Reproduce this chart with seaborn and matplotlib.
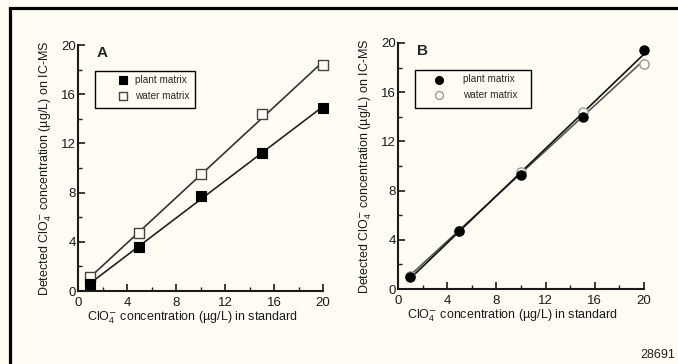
import numpy as np
import pandas as pd
import matplotlib
matplotlib.use("Agg")
import matplotlib.pyplot as plt
import seaborn as sns
from matplotlib.lines import Line2D
from matplotlib.patches import Rectangle
from matplotlib.ticker import MultipleLocator

# ---------------- data ----------------
std_conc = [1, 5, 10, 15, 20]
a_plant = [0.55, 3.6, 7.7, 11.2, 14.9]
a_water = [1.1, 4.7, 9.5, 14.35, 18.4]
b_plant = [1.0, 4.75, 9.3, 14.0, 19.4]
b_water = [1.05, 4.7, 9.5, 14.4, 18.3]
tick_values = [0, 4, 8, 12, 16, 20]
series_labels = ["plant matrix", "water matrix"]
panel_labels = ["A", "B"]
figure_id = "28691"

sns.set_theme(style="ticks")
plt.rcParams["font.family"] = ["Liberation Sans", "DejaVu Sans"]
plt.rcParams["mathtext.fontset"] = "custom"
plt.rcParams["mathtext.rm"] = "Liberation Sans"
plt.rcParams["mathtext.it"] = "Liberation Sans:italic"

BG = "#fffdf3"
INK = "#1a1a1a"
fig = plt.figure(figsize=(6.78, 3.64), dpi=100, facecolor=BG)

axA = fig.add_axes([78 / 678, 1 - 291 / 364, 245 / 678, 246 / 364])
axB = fig.add_axes([398 / 678, 1 - 289 / 364, 246 / 678, 246 / 364])

xlabel = r"ClO$_4^{\mathsf{-}}$ concentration (µg/L) in standard"
ylabel = r"Detected ClO$_4^{\mathsf{-}}$ concentration (µg/L) on IC-MS"

panels = [
    # ax, plant, water, marker, water edge, line colours, legend frame box, legend anchor, text pad, xlabel x
    (axA, a_plant, a_water, "s", "#444444", "#222222", "#333333",
     (0.069, 0.744, 0.408, 0.150), (0.163, 0.878), 0.75, 0.465),
    (axB, b_plant, b_water, "o", "#9a9a9a", "#111111", "#555555",
     (0.069, 0.736, 0.472, 0.154), (0.147, 0.872), 1.85, 0.463),
]

for i, (ax, plant, water, mk, wcol, lcol1, lcol2, box, anchor, htp, xlx) in enumerate(panels):
    ax.set_facecolor(BG)
    df = pd.DataFrame({"x": std_conc, "plant": plant, "water": water})
    sns.regplot(data=df, x="x", y="water", ax=ax, ci=None, scatter=False,
                truncate=True, line_kws=dict(color=lcol2, lw=1.2, zorder=2))
    sns.regplot(data=df, x="x", y="plant", ax=ax, ci=None, scatter=False,
                truncate=True, line_kws=dict(color=lcol1, lw=1.2, zorder=2))
    sns.scatterplot(data=df, x="x", y="water", ax=ax, marker=mk, s=45,
                    facecolor=BG, edgecolor=wcol, linewidth=1.0,
                    label=series_labels[1], zorder=3, clip_on=False)
    sns.scatterplot(data=df, x="x", y="plant", ax=ax, marker=mk, s=45,
                    color="black", edgecolor="black", linewidth=0.8,
                    label=series_labels[0], zorder=4, clip_on=False)

    ax.set_xlim(0, 20)
    ax.set_ylim(0, 20)
    ax.set_xticks(tick_values)
    ax.set_yticks(tick_values)
    ax.xaxis.set_minor_locator(MultipleLocator(2))
    ax.yaxis.set_minor_locator(MultipleLocator(2))
    ax.tick_params(which="major", direction="in", length=5, width=1.2,
                   labelsize=9.5, colors=INK)
    ax.tick_params(axis="y", which="major", pad=1.5)
    ax.tick_params(axis="x", which="major", pad=4)
    ax.tick_params(which="minor", direction="in", length=3, width=1.0,
                   colors=INK)
    for s in ["top", "right"]:
        ax.spines[s].set_visible(False)
    for s in ["left", "bottom"]:
        ax.spines[s].set_linewidth(1.5)
        ax.spines[s].set_color(INK)
    ax.set_xlabel(xlabel, fontsize=9, labelpad=1, color=INK)
    ax.xaxis.label.set_x(xlx)
    ax.set_ylabel(ylabel, fontsize=9, labelpad=5, color=INK)

    # legend frame
    ax.add_patch(Rectangle((box[0], box[1]), box[2], box[3], transform=ax.transAxes,
                           facecolor=BG, edgecolor="black", lw=1.0, zorder=5))
    h, l = ax.get_legend_handles_labels()
    order = [l.index(series_labels[0]), l.index(series_labels[1])]
    leg = ax.legend([h[j] for j in order], [l[j] for j in order],
                    loc="upper left", bbox_to_anchor=anchor,
                    borderaxespad=0, frameon=False,
                    fontsize=7.2, handlelength=1.0, handletextpad=htp,
                    labelspacing=0.55, borderpad=0, scatterpoints=1,
                    markerscale=0.85)
    leg.set_zorder(6)

    ax.text(0.098, 0.967, panel_labels[i], transform=ax.transAxes,
            ha="center", va="center", fontsize=11, fontweight="bold",
            family=["Liberation Sans Narrow", "Liberation Sans", "DejaVu Sans"])

# figure frame (left and top only)
fig.add_artist(Line2D([10 / 678, 10 / 678], [0, 1 - 8 / 364], transform=fig.transFigure,
                      color="black", lw=2.3, solid_capstyle="butt"))
fig.add_artist(Line2D([10 / 678, 1], [1 - 8 / 364, 1 - 8 / 364], transform=fig.transFigure,
                      color="black", lw=2.3, solid_capstyle="projecting"))

fig.text(675 / 678, 1 - 355 / 364, figure_id, ha="right", va="center", fontsize=9,
         family=["Liberation Sans Narrow", "Liberation Sans", "DejaVu Sans"],
         color="#222222")

fig.savefig("out.png", dpi=100, facecolor=BG)
